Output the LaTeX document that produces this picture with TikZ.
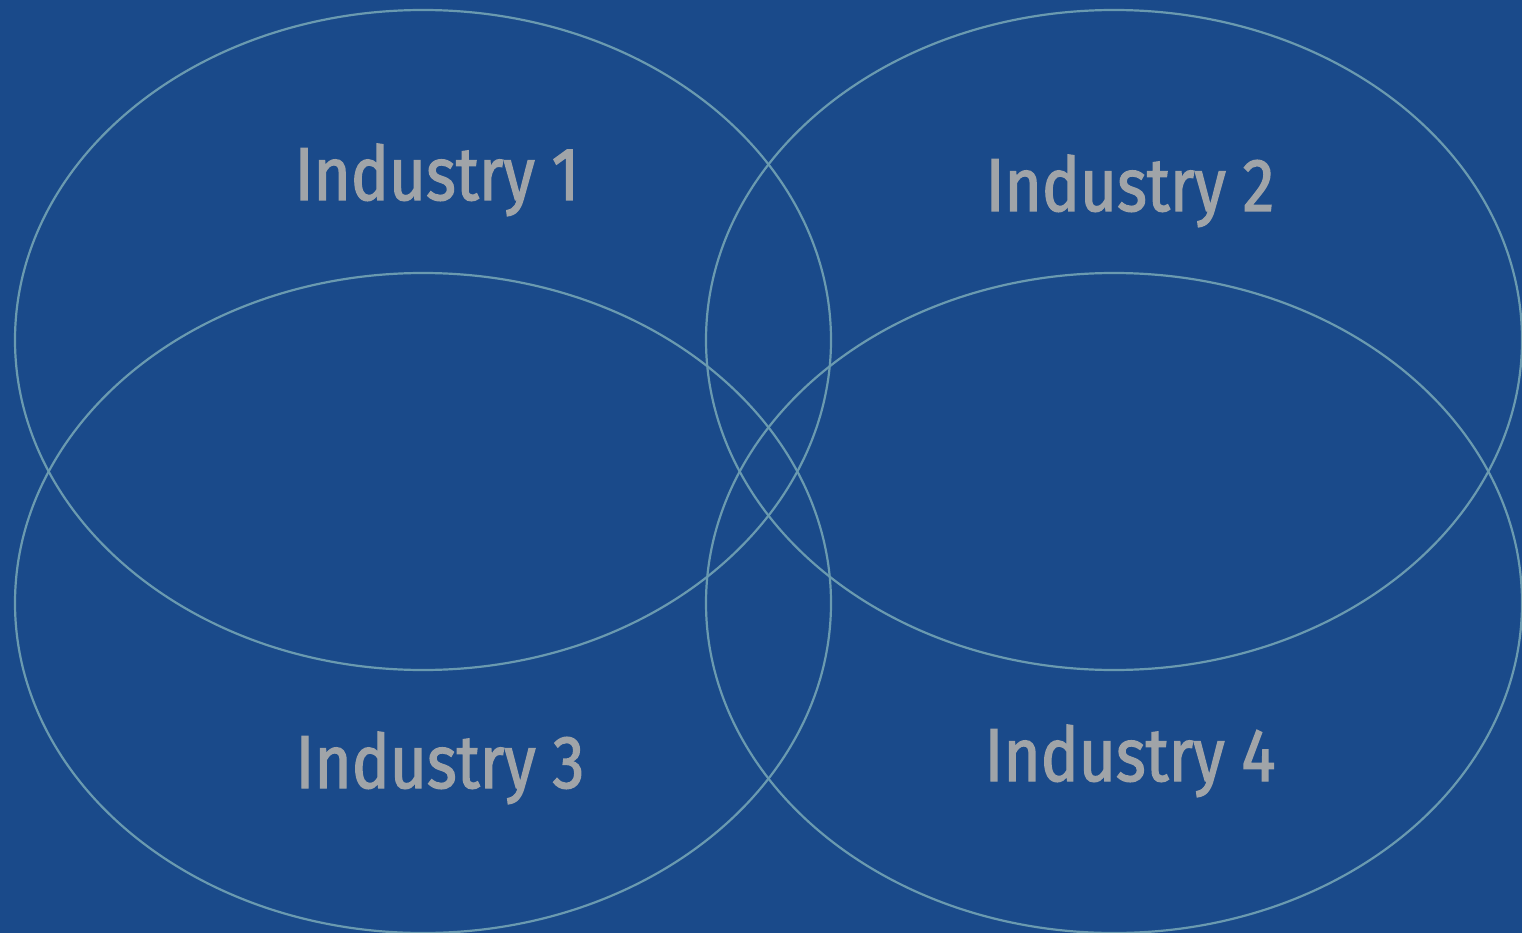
\documentclass[tikz,border=0pt]{standalone}
\usepackage{fontspec}
\setmainfont{Fira Sans}[FakeStretch=0.85,FakeBold=1.7]
\definecolor{bgblue}{HTML}{1A4A8A}
\definecolor{ringline}{HTML}{6A9AB0}
\definecolor{labelgrey}{HTML}{A0A4A8}
\begin{document}
\begin{tikzpicture}[x=1pt,y=-1pt,
  ring/.style={draw=ringline,line width=2.2pt},
  label/.style={text=labelgrey,anchor=base,inner sep=0pt,font=\fontsize{75}{82}\selectfont}]
  \fill[bgblue] (0,0) rectangle (1522,933);
  \useasboundingbox (0,0) rectangle (1522,933);
  % four overlapping rings
  \draw[ring] (423,340) ellipse [x radius=408,y radius=330];
  \draw[ring] (1114,340) ellipse [x radius=408,y radius=330];
  \draw[ring] (423,603) ellipse [x radius=408,y radius=330];
  \draw[ring] (1114,603) ellipse [x radius=408,y radius=330];
  % labels
  \node[label] (i1) at (437,200) {Industry 1};
  \node[label] (i2) at (1130,211) {Industry 2};
  \node[label] (i3) at (440,788) {Industry 3};
  \node[label] (i4) at (1130,781) {Industry 4};
\end{tikzpicture}
\end{document}
